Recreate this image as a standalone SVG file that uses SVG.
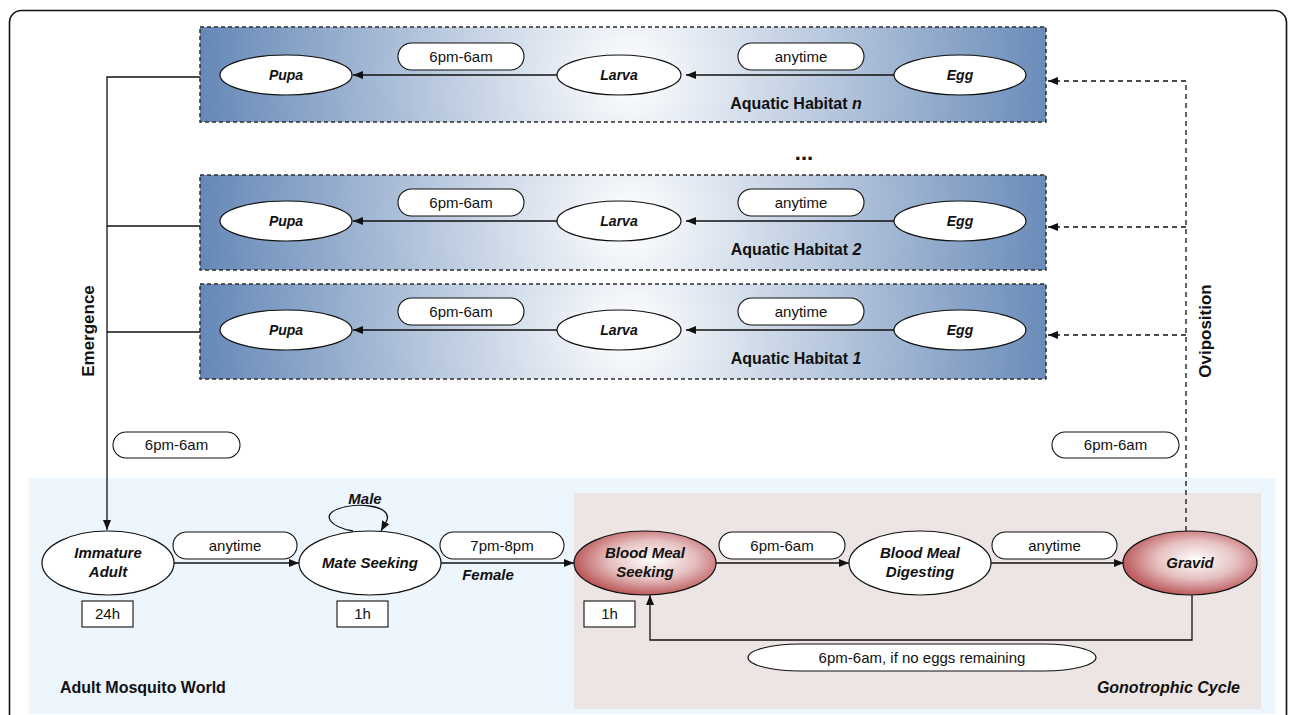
<svg xmlns="http://www.w3.org/2000/svg" width="1290" height="715" viewBox="0 0 1290 715">
<defs>
<radialGradient id="habn" gradientUnits="userSpaceOnUse" cx="630" cy="75" r="460">
<stop offset="0" stop-color="#ffffff"/>
<stop offset="1" stop-color="#5b80b2"/>
</radialGradient>
<radialGradient id="hab2" gradientUnits="userSpaceOnUse" cx="630" cy="222" r="460">
<stop offset="0" stop-color="#ffffff"/>
<stop offset="1" stop-color="#5b80b2"/>
</radialGradient>
<radialGradient id="hab1" gradientUnits="userSpaceOnUse" cx="630" cy="331" r="460">
<stop offset="0" stop-color="#ffffff"/>
<stop offset="1" stop-color="#5b80b2"/>
</radialGradient>
<radialGradient id="red" cx="0.55" cy="0.45" r="0.6">
<stop offset="0" stop-color="#ffffff"/>
<stop offset="0.5" stop-color="#e6c0c0"/>
<stop offset="1" stop-color="#b4474a"/>
</radialGradient>
<marker id="ah" viewBox="0 0 10 10" refX="10" refY="5" markerWidth="10" markerHeight="10" markerUnits="userSpaceOnUse" orient="auto">
<path d="M0,1 L10,5 L0,9 Z" fill="#111"/>
</marker>
</defs>
<style>
.hab{stroke:#2e2e2e;stroke-width:1.5;stroke-dasharray:4 3}
.node{fill:#fff;stroke:#111;stroke-width:1.2}
.rnode{fill:url(#red);stroke:#111;stroke-width:1.2}
.pill{fill:#fff;stroke:#111;stroke-width:1.1}
.box{fill:#fff;stroke:#111;stroke-width:1.1}
.nt{font-family:"Liberation Sans",Arial,sans-serif;font-weight:bold;font-style:italic;font-size:14px;text-anchor:middle;fill:#111}
.nt2{font-family:"Liberation Sans",Arial,sans-serif;font-weight:bold;font-style:italic;font-size:15px;text-anchor:middle;fill:#111}
.lt{font-family:"Liberation Sans",Arial,sans-serif;font-size:15px;text-anchor:middle;fill:#111}
.ht{font-family:"Liberation Sans",Arial,sans-serif;font-weight:bold;font-size:16px;text-anchor:middle;fill:#111}
.bt{font-family:"Liberation Sans",Arial,sans-serif;font-weight:bold;font-size:17px;text-anchor:middle;fill:#111}
.line{fill:none;stroke:#111;stroke-width:1.3}
.dash{fill:none;stroke:#111;stroke-width:1.3;stroke-dasharray:5 4}
</style>
<rect x="9.5" y="10.5" width="1277" height="740" rx="12" fill="#fff" stroke="#111" stroke-width="1.6"/>
<g id="adult-world">
<rect x="29" y="478" width="1246" height="236" fill="#edf5fd"/>
<text x="60" y="693" font-family="'Liberation Sans',Arial,sans-serif" font-weight="bold" font-size="16px" fill="#111">Adult Mosquito World</text>
</g>
<g id="gonotrophic-cycle">
<rect x="574" y="493" width="687" height="216" fill="#ede5e3"/>
<text x="1240" y="693" text-anchor="end" font-family="'Liberation Sans',Arial,sans-serif" font-weight="bold" font-style="italic" font-size="16px" fill="#111">Gonotrophic Cycle</text>
</g>
<g id="habitat-n">
<rect class="hab" x="200" y="27" width="846" height="95" fill="url(#habn)"/>
<text class="ht" x="796" y="109">Aquatic Habitat <tspan font-style="italic">n</tspan></text>
</g>
<g id="habitat-2">
<rect class="hab" x="200" y="175" width="846" height="95" fill="url(#hab2)"/>
<text class="ht" x="796" y="255">Aquatic Habitat <tspan font-style="italic">2</tspan></text>
</g>
<g id="habitat-1">
<rect class="hab" x="200" y="284" width="846" height="95" fill="url(#hab1)"/>
<text class="ht" x="796" y="364">Aquatic Habitat <tspan font-style="italic">1</tspan></text>
</g>
<text x="804" y="160" font-family="'Liberation Sans',Arial,sans-serif" font-weight="bold" font-size="22px" text-anchor="middle" fill="#111">...</text>
<g id="connectors">
<line class="line" x1="557" y1="75" x2="353" y2="75" marker-end="url(#ah)"/>
<line class="line" x1="894" y1="75" x2="686" y2="75" marker-end="url(#ah)"/>
<line class="line" x1="557" y1="221" x2="353" y2="221" marker-end="url(#ah)"/>
<line class="line" x1="894" y1="221" x2="686" y2="221" marker-end="url(#ah)"/>
<line class="line" x1="557" y1="330" x2="353" y2="330" marker-end="url(#ah)"/>
<line class="line" x1="894" y1="330" x2="686" y2="330" marker-end="url(#ah)"/>
<path class="line" d="M200,77 H107 V530" marker-end="url(#ah)"/>
<line class="line" x1="107" y1="226" x2="200" y2="226"/>
<line class="line" x1="107" y1="332" x2="200" y2="332"/>
<path class="dash" d="M1186,531 V81 H1048" marker-end="url(#ah)"/>
<line class="dash" x1="1186" y1="227" x2="1048" y2="227" marker-end="url(#ah)"/>
<line class="dash" x1="1186" y1="335" x2="1048" y2="335" marker-end="url(#ah)"/>
<line class="line" x1="174" y1="563" x2="299" y2="563" marker-end="url(#ah)"/>
<line class="line" x1="441" y1="563" x2="574" y2="563" marker-end="url(#ah)"/>
<line class="line" x1="716" y1="563" x2="849" y2="563" marker-end="url(#ah)"/>
<line class="line" x1="991" y1="563" x2="1124" y2="563" marker-end="url(#ah)"/>
<path class="line" d="M1192,595 V640 H650 V595" marker-end="url(#ah)"/>
<path class="line" d="M353,531 C330,527 321,515 338,509 C356,502 392,505 387,520 L381,531" marker-end="url(#ah)"/>
<rect class="pill" x="113" y="432" width="127" height="26" rx="13"/>
<text class="lt" x="176.5" y="450">6pm-6am</text>
<rect class="pill" x="1052" y="432" width="127" height="26" rx="13"/>
<text class="lt" x="1115.5" y="450">6pm-6am</text>
<text class="bt" transform="translate(94,331) rotate(-90)">Emergence</text>
<text class="bt" transform="translate(1211,331) rotate(-90)">Oviposition</text>
<rect class="pill" x="398" y="43" width="126" height="27" rx="13.5"/><text class="lt" x="461" y="62">6pm-6am</text>
<rect class="pill" x="738" y="43" width="126" height="27" rx="13.5"/><text class="lt" x="801" y="62">anytime</text>
<rect class="pill" x="398" y="189" width="126" height="27" rx="13.5"/><text class="lt" x="461" y="208">6pm-6am</text>
<rect class="pill" x="738" y="189" width="126" height="27" rx="13.5"/><text class="lt" x="801" y="208">anytime</text>
<rect class="pill" x="398" y="298" width="126" height="27" rx="13.5"/><text class="lt" x="461" y="317">6pm-6am</text>
<rect class="pill" x="738" y="298" width="126" height="27" rx="13.5"/><text class="lt" x="801" y="317">anytime</text>
<rect class="pill" x="173" y="532" width="124" height="27" rx="13.5"/><text class="lt" x="235" y="551">anytime</text>
<rect class="pill" x="440" y="532" width="124" height="27" rx="13.5"/><text class="lt" x="502" y="551">7pm-8pm</text>
<rect class="pill" x="719" y="532" width="126" height="27" rx="13.5"/><text class="lt" x="782" y="551">6pm-6am</text>
<rect class="pill" x="992" y="532" width="125" height="27" rx="13.5"/><text class="lt" x="1054.5" y="551">anytime</text>
<path class="pill" d="M800,644 H1044 A52,13.5 0 0 1 1044,671 H800 A52,13.5 0 0 1 800,644 Z"/>
<text class="lt" x="922" y="663">6pm-6am, if no eggs remaining</text>
<text class="nt2" x="365" y="504">Male</text>
<text class="nt2" x="488" y="580">Female</text>
</g>
<g id="pupa-n"><ellipse class="node" cx="286" cy="75" rx="66" ry="20"/><text class="nt" x="286" y="80">Pupa</text></g>
<g id="larva-n"><ellipse class="node" cx="619" cy="75" rx="62" ry="20"/><text class="nt" x="619" y="80">Larva</text></g>
<g id="egg-n"><ellipse class="node" cx="960" cy="75" rx="66" ry="20"/><text class="nt" x="960" y="80">Egg</text></g>
<g id="pupa-2"><ellipse class="node" cx="286" cy="221" rx="66" ry="20"/><text class="nt" x="286" y="226">Pupa</text></g>
<g id="larva-2"><ellipse class="node" cx="619" cy="221" rx="62" ry="20"/><text class="nt" x="619" y="226">Larva</text></g>
<g id="egg-2"><ellipse class="node" cx="960" cy="221" rx="66" ry="20"/><text class="nt" x="960" y="226">Egg</text></g>
<g id="pupa-1"><ellipse class="node" cx="286" cy="330" rx="66" ry="20"/><text class="nt" x="286" y="335">Pupa</text></g>
<g id="larva-1"><ellipse class="node" cx="619" cy="330" rx="62" ry="20"/><text class="nt" x="619" y="335">Larva</text></g>
<g id="egg-1"><ellipse class="node" cx="960" cy="330" rx="66" ry="20"/><text class="nt" x="960" y="335">Egg</text></g>
<g id="immature-adult"><ellipse class="node" cx="108" cy="563" rx="66" ry="32"/><text class="nt2" x="108" y="558">Immature</text><text class="nt2" x="108" y="577">Adult</text>
<rect class="box" x="82" y="601" width="51" height="26"/><text class="lt" x="107.5" y="619">24h</text></g>
<g id="mate-seeking"><ellipse class="node" cx="370" cy="563" rx="71" ry="32"/><text class="nt2" x="370" y="568">Mate Seeking</text>
<rect class="box" x="337" y="601" width="51" height="26"/><text class="lt" x="362.5" y="619">1h</text></g>
<g id="blood-meal-seeking"><ellipse class="rnode" cx="645" cy="563" rx="71" ry="32"/><text class="nt2" x="645" y="558">Blood Meal</text><text class="nt2" x="645" y="577">Seeking</text>
<rect class="box" x="584" y="601" width="51" height="26"/><text class="lt" x="609.5" y="619">1h</text></g>
<g id="blood-meal-digesting"><ellipse class="node" cx="920" cy="563" rx="71" ry="32"/><text class="nt2" x="920" y="558">Blood Meal</text><text class="nt2" x="920" y="577">Digesting</text></g>
<g id="gravid"><ellipse class="rnode" cx="1190" cy="563" rx="67" ry="32"/><text class="nt2" x="1190" y="568">Gravid</text></g>
</svg>
